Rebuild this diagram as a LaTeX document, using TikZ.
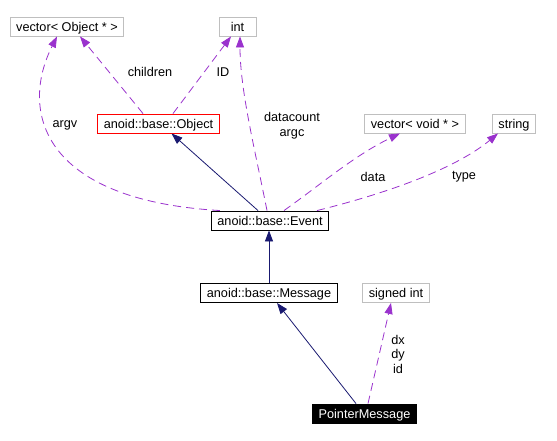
\documentclass[tikz,border=0pt]{standalone}
\usepackage{fontspec}
\setmainfont{Liberation Sans}
\usetikzlibrary{arrows.meta}
\definecolor{usecol}{HTML}{9A32CD}
\definecolor{inhcol}{HTML}{191970}
\definecolor{extgray}{HTML}{BFBFBF}

\begin{document}
\begin{tikzpicture}[x=1pt,y=-1pt,
  box/.style={draw=black,line width=0.9pt,text height=10.6pt,text depth=1.2pt,
              inner xsep=6pt,inner ysep=3.6pt,font=\fontsize{12.7}{15}\selectfont},
  ext/.style={box,draw=extgray},
  inh/.style={-{Triangle[length=11pt,width=8pt]},line width=0.8pt,inhcol},
  use/.style={-{Triangle[length=11pt,width=8pt]},line width=0.8pt,usecol,
              dash pattern=on 8pt off 5pt},
  lbl/.style={inner sep=0pt,align=center,font=\fontsize{12.7}{14.5}\selectfont}
]
\useasboundingbox (0,0) rectangle (557,441);
% classes
\node[ext] (vecobj) at (67,26.5) {vector< Object * >};
\node[ext,minimum width=37pt] (intt) at (237.5,26.5) {int};
\node[box,draw=red] (object) at (158.5,123.5) {anoid::base::Object};
\node[ext] (vecvoid) at (415,123.5) {vector< void * >};
\node[ext] (str) at (514,123.5) {string};
\node[box] (event) at (270,220.5) {anoid::base::Event};
\node[box] (message) at (269,293) {anoid::base::Message};
\node[ext] (sint) at (396,293) {signed int};
\node[box,fill=black,text=white] (ptrmsg) at (364.5,413.5) {PointerMessage};
% member labels
\node[lbl] (lchildren) at (150,72) {children};
\node[lbl] (lid) at (223,72) {ID};
\node[lbl] (largv) at (65,125) {argv};
\node[lbl] (lcount) at (292,125.5) {datacount\\argc};
\node[lbl] (ldata) at (373,177) {data};
\node[lbl] (ltype) at (464,177) {type};
\node[lbl] (lpos) at (398,354) {dx\\dy\\id};
% usage
\draw[use] ([xshift=-15.5pt]object.north) -- ([xshift=13pt]vecobj.south);
\draw[use] ([xshift=14.5pt]object.north) -- ([xshift=-6.5pt]intt.south);
\draw[use] ([xshift=9pt]event.north west) .. controls (40,200) and (20,110) .. ([xshift=-10pt]vecobj.south);
\draw[use] ([xshift=-3pt]event.north) .. controls (255,150) and (240,90) .. ([xshift=2.5pt]intt.south);
\draw[use] ([xshift=14pt]event.north) .. controls (320,185) and (355,155) .. ([xshift=-15pt]vecvoid.south);
\draw[use] ([xshift=47pt]event.north) .. controls (400,190) and (460,165) .. ([xshift=-16pt]str.south);
\draw[use] ([xshift=3.5pt]ptrmsg.north) -- ([xshift=-5pt]sint.south);
% inheritance
\draw[inh] ([xshift=-12pt]event.north) -- ([xshift=13pt]object.south);
\draw[inh] (message.north) -- (message.north |- event.south);
\draw[inh] ([xshift=-8.5pt]ptrmsg.north) -- ([xshift=8pt]message.south);
\end{tikzpicture}
\end{document}
